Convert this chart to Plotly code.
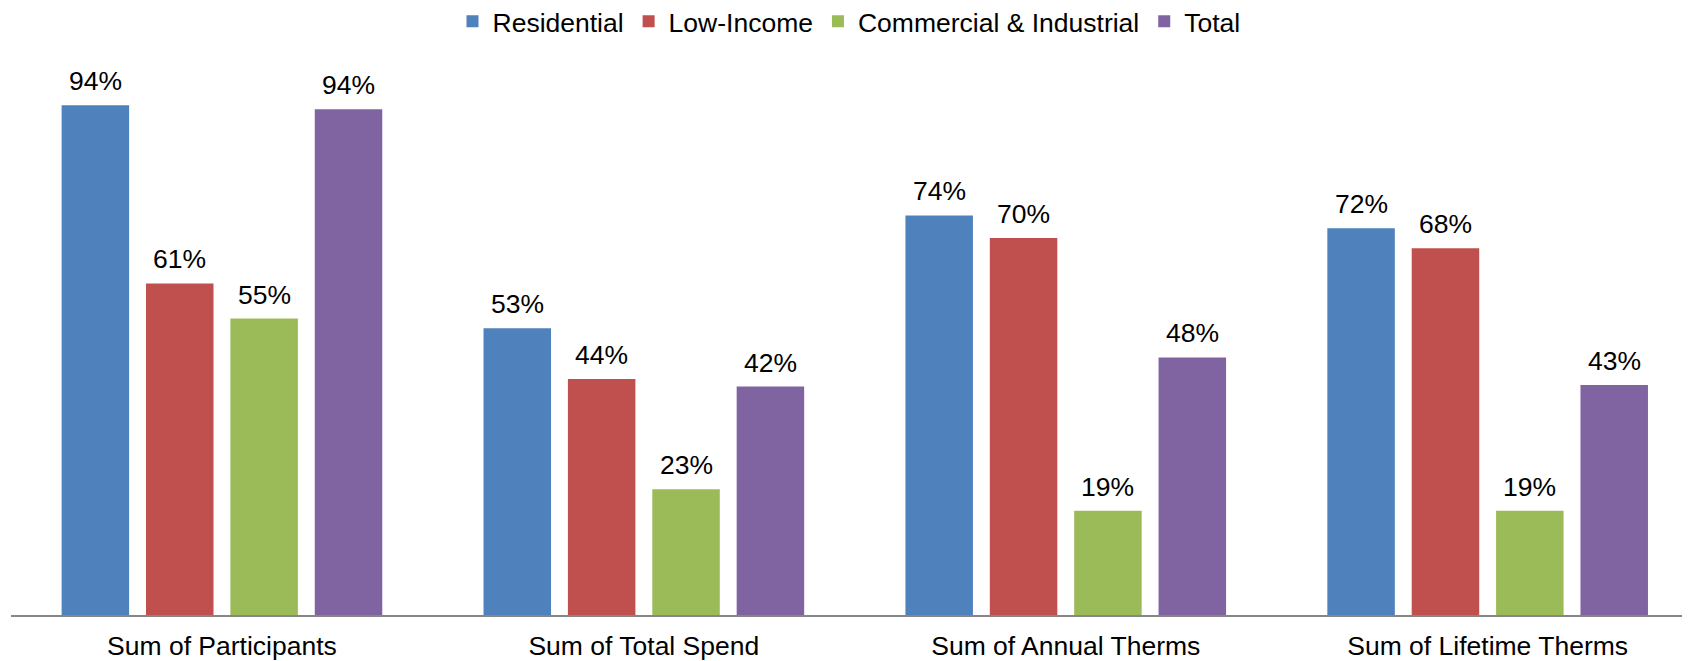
import plotly.graph_objects as go

categories = ["Sum of Participants", "Sum of Total Spend", "Sum of Annual Therms", "Sum of Lifetime Therms"]
series_names = ["Residential", "Low-Income", "Commercial & Industrial", "Total"]
residential = [94.4, 53.1, 74.0, 71.6]
low_income = [61.4, 43.7, 69.8, 67.9]
commercial = [54.9, 23.3, 19.3, 19.3]
total = [93.65, 42.3, 47.7, 42.6]
colors = ["#4F81BD", "#C0504D", "#9BBB59", "#8064A2"]

series_values = [residential, low_income, commercial, total]
FONT = "Liberation Sans, Arial, sans-serif"
FS = 26.5
BARGAP = 0.2

fig = go.Figure()
for name, vals, col in zip(series_names, series_values, colors):
    fig.add_trace(go.Bar(
        x=categories, y=vals, name=name,
        marker=dict(color=col, line=dict(width=0)),
        hoverinfo="x+y+name",
    ))

annotations = []
n = len(series_values)
slot = (1 - BARGAP) / n
for i, vals in enumerate(series_values):
    for j, v in enumerate(vals):
        annotations.append(dict(
            x=j + (i - (n - 1) / 2) * slot, y=v, xref="x", yref="y",
            text=f"{round(v):d}%", showarrow=False,
            xanchor="center", yanchor="bottom", yshift=7,
            font=dict(family=FONT, size=FS, color="#000000"),
        ))

# page body has an 8px default margin, so the figure is 8px smaller
fig.update_layout(
    width=1682, height=653,
    margin=dict(l=3, r=0, t=67, b=46, autoexpand=False),
    paper_bgcolor="white", plot_bgcolor="white",
    barmode="group", bargap=BARGAP, bargroupgap=0.2,
    font=dict(family=FONT, size=FS, color="#000000"),
    showlegend=True,
    legend=dict(
        orientation="h", x=0.5, xanchor="center", xref="container",
        y=1.099, yanchor="middle", yref="paper",
        font=dict(family=FONT, size=FS, color="#000000"),
        itemwidth=30, tracegroupgap=0,
    ),
    xaxis=dict(
        type="category",
        range=[-0.5, -0.5 + 1679 / 421.9],
        showline=True, linecolor="#868686", linewidth=2,
        ticks="", showgrid=False, zeroline=False,
        ticklabelstandoff=6,
        tickfont=dict(family=FONT, size=FS, color="#000000"),
    ),
    yaxis=dict(
        range=[0, 100], visible=False, showgrid=False, zeroline=False,
    ),
    annotations=annotations,
)

fig.write_html("out.html")
